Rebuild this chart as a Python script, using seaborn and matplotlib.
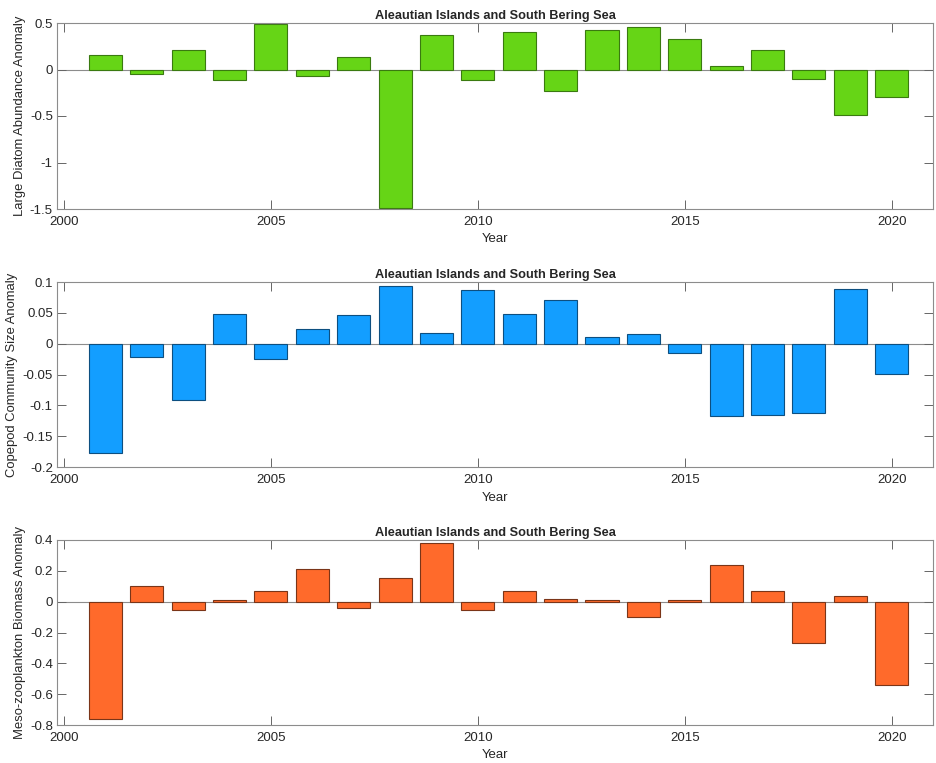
import numpy as np
import pandas as pd
import matplotlib.pyplot as plt
import seaborn as sns

years = list(range(2001, 2021))

diatom = [0.161, -0.047, 0.215, -0.111, 0.487, -0.065, 0.136, -1.49, 0.376, -0.108,
          0.405, -0.226, 0.423, 0.459, 0.333, 0.043, 0.215, -0.104, -0.487, -0.301]
copepod = [-0.178, -0.0216, -0.0907, 0.0486, -0.0254, 0.0232, 0.0464, 0.0934, 0.0178, 0.0863,
           0.0486, 0.0712, 0.0103, 0.0151, -0.0146, -0.1176, -0.115, -0.1117, 0.089, -0.0486]
biomass = [-0.760, 0.104, -0.052, 0.013, 0.071, 0.214, -0.039, 0.151, 0.382, -0.054,
           0.067, 0.019, 0.011, -0.097, 0.009, 0.240, 0.067, -0.266, 0.039, -0.542]

title = "Aleautian Islands and South Bering Sea"
ylabels = ["Large Diatom Abundance Anomaly", "Copepod Community Size Anomaly",
           "Meso-zooplankton Biomass Anomaly"]
colors = ["#66D516", "#139EFF", "#FF6A2B"]
edges = ["#3A7A10", "#0D4F80", "#7A3518"]
ylims = [(-1.5, 0.5), (-0.2, 0.1), (-0.8, 0.4)]
yticks = [[-1.5, -1, -0.5, 0, 0.5],
          [-0.2, -0.15, -0.1, -0.05, 0, 0.05, 0.1],
          [-0.8, -0.6, -0.4, -0.2, 0, 0.2, 0.4]]
yticklabels = [["-1.5", "-1", "-0.5", "0", "0.5"],
               ["-0.2", "-0.15", "-0.1", "-0.05", "0", "0.05", "0.1"],
               ["-0.8", "-0.6", "-0.4", "-0.2", "0", "0.2", "0.4"]]

sns.set_theme(style="white")
plt.rcParams["font.family"] = ["Liberation Sans", "DejaVu Sans"]

fig = plt.figure(figsize=(9.36, 7.63), dpi=100)
W, H = 936, 763
# axes boxes in pixels: (left, top, right, bottom)
boxes = [(57, 23, 933, 209), (57, 282, 933, 467), (57, 540, 933, 725)]

for i, series in enumerate([diatom, copepod, biomass]):
    l, t, r, b = boxes[i]
    ax = fig.add_axes([l / W, 1 - b / H, (r - l) / W, (b - t) / H])
    df = pd.DataFrame({"Year": years, "value": series})
    sns.barplot(data=df, x="Year", y="value", native_scale=True, width=0.8,
                color=colors[i], edgecolor=edges[i], linewidth=0.8,
                saturation=1, ax=ax)
    ax.axhline(0, color="#8c8c8c", linewidth=0.8, zorder=0.5)
    ax.set_xlim(1999.83, 2021.0)
    ax.set_ylim(*ylims[i])
    ax.set_xticks([2000, 2005, 2010, 2015, 2020])
    ax.set_xticklabels(["2000", "2005", "2010", "2015", "2020"])
    ax.set_yticks(yticks[i])
    ax.set_yticklabels(yticklabels[i])
    ax.tick_params(axis="both", direction="in", length=6.5, width=0.7,
                   color="#666666", labelsize=9.5, labelcolor="#262626",
                   top=True, right=True, left=True, bottom=True)
    ax.tick_params(axis="y", pad=3)
    ax.tick_params(axis="x", pad=5)
    for s in ax.spines.values():
        s.set_color("#8c8c8c")
        s.set_linewidth(0.8)
    ax.set_xlabel("Year", fontsize=9.5, color="#262626", labelpad=4)
    ax.set_ylabel(ylabels[i], fontsize=9.4, color="#262626", labelpad=3)
    ax.set_title(title, fontsize=9.2, fontweight="bold", pad=3)

fig.savefig("out.png", dpi=100)
